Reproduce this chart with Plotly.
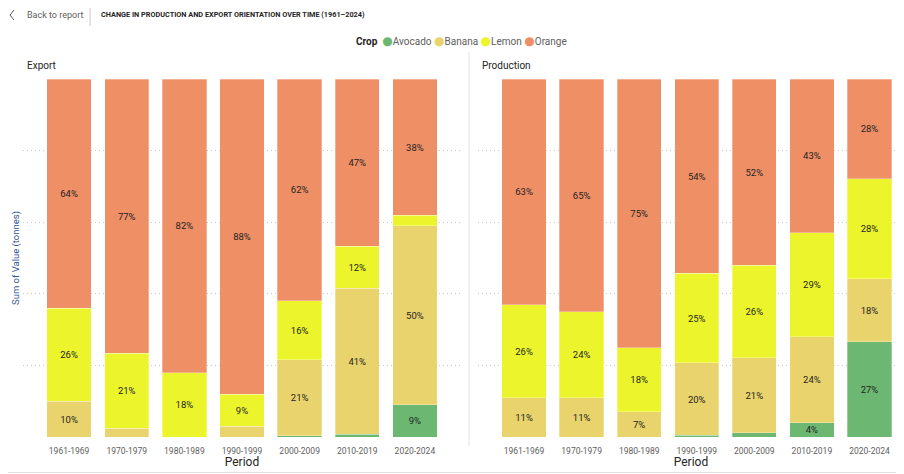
import plotly.graph_objects as go

# 데이터
periods = ["1961-1969", "1970-1979", "1980-1989", "1990-1999",
           "2000-2009", "2010-2019", "2020-2024"]
crops = ["Avocado", "Banana", "Lemon", "Orange"]

export_avocado = [0, 0, 0, 0, 0.3, 0.8, 9]
export_banana = [10, 2.4, 0, 3, 21.3, 40.7, 50]
export_lemon = [26, 21, 18, 9, 16.4, 11.8, 3]
export_orange = [64, 76.6, 82, 88, 62, 46.7, 38]

prod_avocado = [0, 0, 0, 0.5, 1.2, 4, 26.6]
prod_banana = [11, 11, 7, 20.2, 21, 24, 17.6]
prod_lemon = [26, 24, 18, 25, 25.8, 29, 27.9]
prod_orange = [63, 65, 75, 54.3, 52, 43, 27.9]

colors = {"Avocado": "#6CB873", "Banana": "#E9D36C",
          "Lemon": "#ECF42C", "Orange": "#EE8F66"}

# 페이지 기본 여백(8px)을 감안한 크기
OFF = 8
W, H = 904 - OFF, 474 - OFF
FONT = "Segoe UI, Roboto, sans-serif"


def px_x(v):
    return (v - OFF) / W


def px_y(v):
    return 1 - (v - OFF) / H


def labels(vals):
    # 작은 구간은 라벨 생략
    return [f"{v:.0f}%" if v >= 4 else "" for v in vals]


fig = go.Figure()

panels = [
    ("x", "y", [export_avocado, export_banana, export_lemon, export_orange]),
    ("x2", "y2", [prod_avocado, prod_banana, prod_lemon, prod_orange]),
]
for xa, ya, series in panels:
    for crop, vals in zip(crops, series):
        fig.add_trace(go.Bar(
            x=periods, y=vals, name=crop, xaxis=xa, yaxis=ya,
            marker=dict(color=colors[crop],
                        line=dict(color="rgba(255,255,255,0.5)", width=0.6)),
            text=labels(vals), textposition="inside",
            insidetextanchor="middle", textangle=0,
            textfont=dict(size=9.5, color="#252423", family=FONT),
            showlegend=False, hoverinfo="x+y+name",
        ))

xcommon = dict(type="category", showgrid=False, zeroline=False, showline=False,
               ticks="", ticklabelstandoff=7,
               tickfont=dict(size=8.5, color="#605E5C", family=FONT),
               title=dict(text="Period", font=dict(size=12, color="#252423", family=FONT),
                          standoff=2))
ycommon = dict(range=[0, 100], dtick=20, showticklabels=False, showgrid=True,
               gridcolor="#C8C8C8", griddash="1px,3px", gridwidth=1, zeroline=False,
               showline=False, ticks="")

fig.update_layout(
    width=W, height=H,
    margin=dict(l=0, r=0, t=0, b=0),
    paper_bgcolor="white", plot_bgcolor="white",
    barmode="stack", barnorm="percent", bargap=0.23,
    uniformtext=dict(minsize=9, mode="show"),
    font=dict(family=FONT, color="#252423"),
    xaxis=dict(xcommon, domain=[px_x(23), px_x(461)], range=[-0.8, 6.8], anchor="y"),
    yaxis=dict(ycommon, domain=[px_y(437), px_y(79)], anchor="x"),
    xaxis2=dict(xcommon, domain=[px_x(478), 1.0], range=[-0.8, 6.6], anchor="y2"),
    yaxis2=dict(ycommon, domain=[px_y(437), px_y(79)], anchor="x2"),
    showlegend=False,
)

# 범례 텍스트
legend_text = "<b>Crop</b>&nbsp;&nbsp;" + "&nbsp;".join(
    f"<span style='color:{colors[c]};font-family:DejaVu Sans;font-size:12px'>●</span>"
    f"<span style='color:#605E5C'>{c}</span>"
    for c in crops)

annotations = [
    dict(text="Back to report", x=px_x(25), y=px_y(15), xanchor="left", yanchor="middle",
         font=dict(size=9, color="#605E5C")),
    dict(text="<b>CHANGE IN PRODUCTION AND EXPORT ORIENTATION OVER TIME (1961–2024)</b>",
         x=px_x(99), y=px_y(15), xanchor="left", yanchor="middle",
         font=dict(size=7.3, color="#252423")),
    dict(text=legend_text, x=px_x(354), y=px_y(41), xanchor="left", yanchor="middle",
         font=dict(size=10, color="#252423")),
    dict(text="Export", x=px_x(25), y=px_y(66), xanchor="left", yanchor="middle",
         font=dict(size=10, color="#252423")),
    dict(text="Production", x=px_x(480), y=px_y(66), xanchor="left", yanchor="middle",
         font=dict(size=10, color="#252423")),
    dict(text="Sum of Value (tonnes)", x=px_x(8), y=px_y(258), textangle=-90,
         xanchor="left", yanchor="middle", font=dict(size=9.5, color="#2F5597")),
]
for a in annotations:
    a.update(xref="paper", yref="paper", showarrow=False)
fig.update_layout(annotations=annotations)

shapes = [
    # 뒤로가기 화살표
    dict(type="path", path=f"M {px_x(14)} {px_y(10)} L {px_x(10)} {px_y(15)} L {px_x(14)} {px_y(20)}",
         line=dict(color="#605E5C", width=1)),
    # 구분선
    dict(type="line", x0=px_x(90), x1=px_x(90), y0=px_y(6), y1=px_y(26),
         line=dict(color="#C8C8C8", width=1)),
    dict(type="line", x0=px_x(469), x1=px_x(469), y0=px_y(52), y1=px_y(446),
         line=dict(color="#E1E1E1", width=1)),
    dict(type="line", x0=0, x1=1, y0=px_y(472.5), y1=px_y(472.5),
         line=dict(color="#E1E1E1", width=1)),
]
for s in shapes:
    s.update(xref="paper", yref="paper")
fig.update_layout(shapes=shapes)

fig.write_html("out.html")
